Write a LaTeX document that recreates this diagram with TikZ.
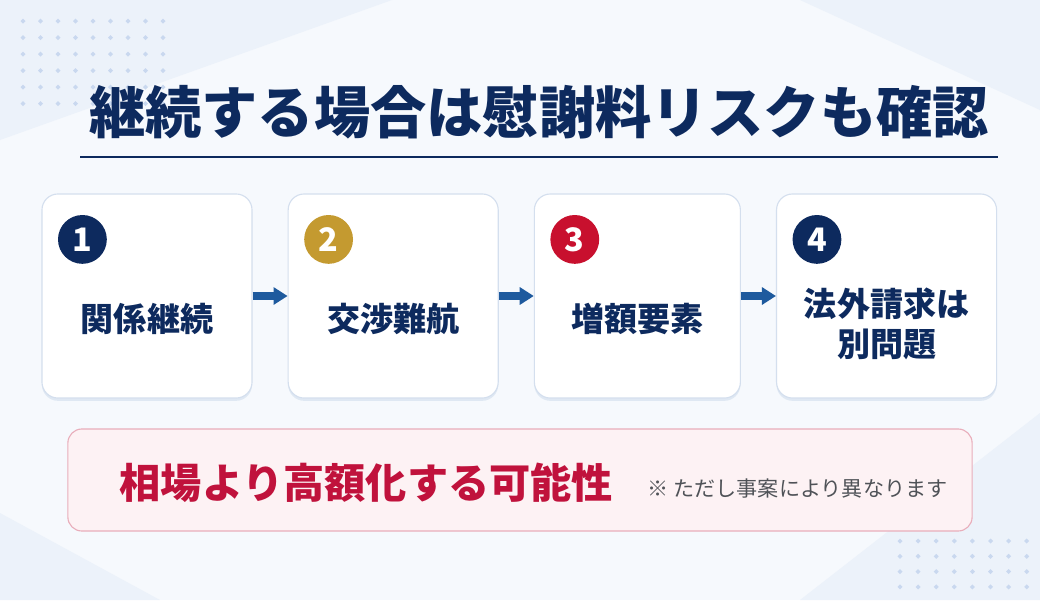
\documentclass[tikz,border=0pt]{standalone}
\usepackage{fontspec}
\setmainfont{Noto Sans CJK JP}
\usepackage{tikz}
\usetikzlibrary{arrows.meta, positioning, calc, shadows}
\definecolor{navy}{HTML}{0D2A5E}
\definecolor{gold}{HTML}{C49A30}
\definecolor{crimson}{HTML}{C8102E}
\definecolor{riskred}{HTML}{C0123C}
\definecolor{flowblue}{HTML}{1E5A9E}
\definecolor{cardline}{HTML}{D4DFEE}
\definecolor{riskfill}{HTML}{FDF2F4}
\definecolor{riskline}{HTML}{E9AEBB}
\definecolor{notegray}{HTML}{4F5257}
\definecolor{bgbase}{HTML}{F6F9FD}
\definecolor{bgtint}{HTML}{ECF2FA}
\definecolor{dotblue}{HTML}{C9D8EF}

\begin{document}
\begin{tikzpicture}[x=0.025cm, y=-0.025cm,
    card/.style={rectangle, draw=cardline, fill=white, line width=0.8pt, rounded corners=0.4cm, minimum height=5.1cm,
        drop shadow={opacity=0.10, shadow xshift=0pt, shadow yshift=-2pt, fill=flowblue}},
    badge/.style={circle, fill=#1, minimum size=1.22cm, inner sep=0pt, text=white, font=\fontsize{23}{23}\selectfont\bfseries},
    cardtext/.style={font=\fontsize{23.5}{28.5}\selectfont\bfseries, text=navy, align=center, inner sep=0pt},
    flow/.style={-{Triangle[length=10pt, width=12pt]}, line width=5pt, draw=flowblue},
    node distance=0.875cm]
    % background
    \useasboundingbox (0,0) rectangle (1040,600);
    \fill[bgbase] (0,0) rectangle (1040,600);
    \fill[bgtint] (0,0) -- (392,0) -- (0,140) -- cycle;
    \fill[bgtint] (800,0) -- (1040,0) -- (1040,110) -- cycle;
    \fill[bgtint] (0,513) -- (160,600) -- (0,600) -- cycle;
    \fill[bgtint] (800,600) -- (1040,413) -- (1040,600) -- cycle;
    \foreach \i in {0,...,8}
        \foreach \j in {0,...,5}
            \fill[dotblue] (23+17.5*\i, 21+16.5*\j) +(0,-2.5) -- +(2.5,0) -- +(0,2.5) -- +(-2.5,0) -- cycle;
    \foreach \i in {0,...,7}
        \foreach \j in {0,...,3}
            \fill[dotblue] (900+18.1*\i, 541+15.3*\j) +(0,-2.5) -- +(2.5,0) -- +(0,2.5) -- +(-2.5,0) -- cycle;

    % title
    \node[font=\fontsize{40}{40}\selectfont\bfseries, text=navy, inner sep=0pt] (title) at (539,112) {継続する場合は慰謝料リスクも確認};
    \draw[navy, line width=1.5pt] (80,157) -- (998,157);

    % steps
    \node[card, minimum width=5.25cm] (c1) at (147,296) {};
    \node[card, minimum width=5.25cm, right=of c1] (c2) {};
    \node[card, minimum width=5.15cm, right=of c2] (c3) {};
    \node[card, minimum width=5.5cm, right=of c3] (c4) {};

    \node[badge=navy] (n1) at ($(c1.north west)+(41,46)$) {1};
    \node[badge=gold] (n2) at ($(c2.north west)+(41,46)$) {2};
    \node[badge=crimson] (n3) at ($(c3.north west)+(41,46)$) {3};
    \node[badge=navy] (n4) at ($(c4.north west)+(41,46)$) {4};

    \node[cardtext] (t1) at ($(c1.center)+(0,23)$) {関係継続};
    \node[cardtext] (t2) at ($(c2.center)+(0,23)$) {交渉難航};
    \node[cardtext] (t3) at ($(c3.center)+(0,23)$) {増額要素};
    \node[cardtext] (t4) at ($(c4.center)+(0,28)$) {法外請求は\\別問題};

    \draw[flow] (c1) -- (c2);
    \draw[flow] (c2) -- (c3);
    \draw[flow] (c3) -- (c4);

    % risk
    \node[rectangle, draw=riskline, fill=riskfill, line width=0.8pt, rounded corners=0.35cm,
        minimum width=22.6cm, minimum height=2.55cm] (risk) at (520,480) {};
    \node[font=\fontsize{29.3}{29.3}\selectfont\bfseries, text=riskred, anchor=west, inner sep=0pt] (riskt) at ($(risk.west)+(52,3)$) {相場より高額化する可能性};
    \node[font=\fontsize{15}{15}\selectfont, text=notegray, anchor=base west, inner sep=0pt] (note) at ($(riskt.base east)+(34,-2)$) {※ ただし事案により異なります};
\end{tikzpicture}
\end{document}
